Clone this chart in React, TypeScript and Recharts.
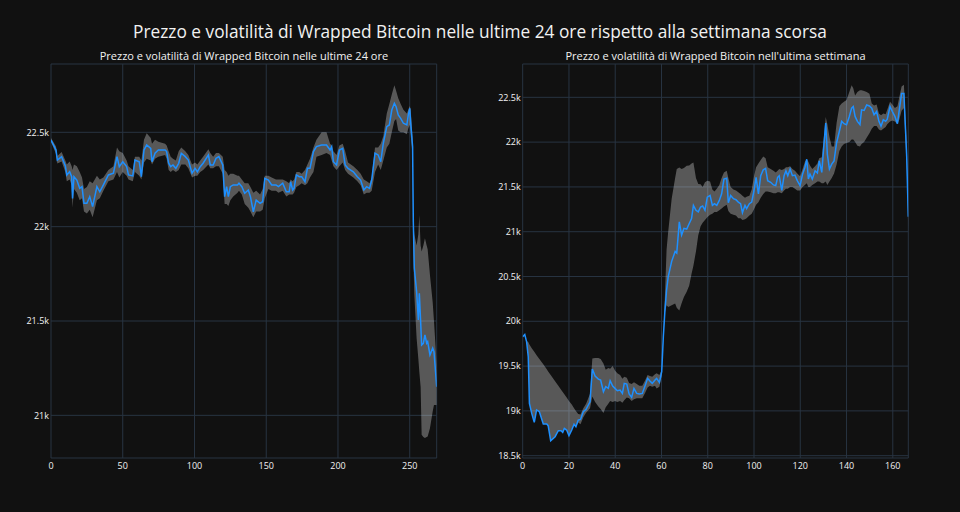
import { Area, CartesianGrid, ComposedChart, Line, XAxis, YAxis } from 'recharts'

// Ultime 24 ore (indice del campione, prezzo in USD, banda di volatilità)
const dayX = [
  0, 3.5, 4.4, 7.4, 10, 11, 13, 14.4, 15, 16, 18, 20, 21.6, 23, 25, 27, 29, 32, 34, 36.5,
  40, 43.5, 46, 47.6, 50, 52.7, 54, 57, 58.5, 61.5, 63, 64.8, 66.7, 69.5, 70.4, 72.5, 74.8, 79.5, 80.6, 82,
  83.4, 85, 87, 89, 90.8, 93.6, 95.7, 98.3, 100.4, 102, 104, 106, 109.7, 111, 113, 115, 117, 119.7, 121, 122.4,
  123.6, 125, 127, 130, 131, 133, 135, 137.5, 139, 141, 143, 145.7, 147.5, 149, 151.5, 153.8, 156.8, 158.5, 161.5, 164,
  166, 167, 168.4, 169.4, 171, 173, 174.7, 177, 178.7, 180.5, 182.9, 185, 188.6, 192, 194.5, 195.6, 196.8, 199, 201, 203.3,
  205, 207, 210.7, 213.5, 215.8, 218, 220, 222, 223.5, 225.8, 228, 229.8, 231.6, 234, 235.8, 237.5, 239.3, 240.5, 242, 243.7,
  245.6, 248, 249, 250, 250.7, 252, 252.5, 253.2, 254.8, 256, 256.7, 257.6, 258.3, 259.5, 260.6, 261.8, 262.5, 264.1, 266, 266.9,
  268.8,
]
const dayPrice = [
  22459, 22406, 22353, 22371, 22322, 22274, 22291, 22265, 22150, 22265, 22247, 22203, 22212, 22124, 22124, 22159, 22106, 22212, 22185, 22221,
  22274, 22283, 22371, 22318, 22344, 22318, 22274, 22269, 22353, 22344, 22265, 22406, 22433, 22415, 22344, 22389, 22406, 22406, 22398, 22336,
  22318, 22327, 22309, 22336, 22389, 22371, 22353, 22283, 22309, 22291, 22318, 22336, 22380, 22327, 22327, 22362, 22371, 22327, 22159, 22212,
  22159, 22212, 22221, 22221, 22230, 22212, 22177, 22194, 22159, 22079, 22141, 22124, 22132, 22256, 22247, 22221, 22221, 22212, 22230, 22185,
  22185, 22238, 22194, 22203, 22274, 22265, 22265, 22238, 22309, 22309, 22398, 22424, 22433, 22433, 22406, 22424, 22344, 22327, 22406, 22415,
  22327, 22309, 22291, 22265, 22247, 22194, 22212, 22203, 22247, 22389, 22380, 22344, 22442, 22530, 22539, 22618, 22654, 22636, 22592, 22574,
  22548, 22539, 22592, 22627, 22548, 22424, 22026, 21780, 21656, 21506, 21647, 21497, 21373, 21382, 21426, 21382, 21391, 21320, 21356, 21338,
  21152,
]
const dayLow = [
  22450, 22385, 22335, 22345, 22290, 22240, 22250, 22220, 22100, 22200, 22180, 22140, 22150, 22080, 22070, 22090, 22050, 22140, 22150, 22190,
  22240, 22250, 22290, 22260, 22290, 22270, 22250, 22240, 22290, 22270, 22250, 22340, 22360, 22350, 22330, 22360, 22370, 22380, 22360, 22300,
  22290, 22300, 22290, 22300, 22330, 22330, 22310, 22260, 22270, 22270, 22290, 22300, 22330, 22310, 22310, 22320, 22320, 22280, 22120, 22120,
  22110, 22140, 22160, 22180, 22190, 22170, 22120, 22100, 22080, 22050, 22080, 22080, 22090, 22150, 22200, 22190, 22190, 22180, 22190, 22160,
  22170, 22170, 22170, 22180, 22210, 22220, 22230, 22220, 22230, 22260, 22290, 22370, 22380, 22390, 22380, 22350, 22320, 22300, 22320, 22340,
  22300, 22280, 22260, 22240, 22220, 22170, 22180, 22180, 22190, 22290, 22330, 22300, 22350, 22420, 22440, 22500, 22560, 22570, 22510, 22500,
  22500, 22490, 22520, 22540, 22480, 22380, 21850, 21640, 21409, 21300, 21230, 21150, 20897, 20885, 20880, 20885, 20888, 20932, 21020, 21055,
  21055,
]
const dayHigh = [
  22470, 22425, 22375, 22395, 22350, 22330, 22345, 22320, 22300, 22330, 22320, 22290, 22260, 22200, 22210, 22240, 22230, 22270, 22250, 22260,
  22300, 22320, 22420, 22400, 22390, 22350, 22320, 22300, 22370, 22370, 22350, 22460, 22495, 22470, 22440, 22460, 22450, 22440, 22430, 22400,
  22370, 22360, 22350, 22400, 22420, 22400, 22380, 22330, 22340, 22330, 22350, 22370, 22410, 22390, 22370, 22390, 22390, 22370, 22300, 22290,
  22270, 22280, 22280, 22270, 22270, 22250, 22230, 22230, 22210, 22180, 22190, 22170, 22200, 22270, 22270, 22260, 22250, 22250, 22250, 22240,
  22230, 22250, 22240, 22250, 22290, 22290, 22280, 22300, 22330, 22360, 22420, 22460, 22500, 22500, 22440, 22430, 22400, 22380, 22430, 22440,
  22400, 22340, 22320, 22300, 22280, 22250, 22240, 22230, 22260, 22420, 22420, 22440, 22480, 22600, 22650, 22700, 22750, 22720, 22680, 22650,
  22620, 22600, 22620, 22640, 22620, 22470, 22030, 21960, 21900, 21960, 22062, 21900, 21868, 21900, 21938, 21900, 21880, 21744, 21600, 21500,
  21267,
]

// Ultima settimana (indice orario)
const weekX = [
  0, 0.9, 1.7, 2.4, 2.9, 3.9, 5, 6, 7.2, 8.9, 10.4, 11, 12.1, 14, 15.4, 16.6, 17.3, 18, 19, 20,
  21.2, 22.2, 23, 24, 25, 26.2, 27.4, 29.1, 30.1, 31.3, 32.7, 33.7, 34.9, 35.9, 37, 37.8, 38.9, 39.9, 40.9, 42.1,
  43.1, 43.9, 45, 46, 47.1, 48.1, 49.3, 50.4, 51.7, 52.9, 54, 55, 56, 57.2, 57.9, 59.1, 60.1, 60.8, 61.5, 62.2,
  62.9, 64.4, 65.9, 66.6, 67.7, 68.7, 69.7, 70.9, 72, 73, 73.8, 74.9, 75.9, 76.9, 77.8, 78.8, 79.8, 81, 82, 82.9,
  83.9, 85, 86, 87, 88.2, 88.9, 89.9, 91.1, 92.2, 93.2, 94.2, 95, 96.1, 96.8, 98, 99, 100, 100.9, 101.9, 102.9,
  104, 105, 105.9, 107.2, 108.4, 109.4, 110.2, 110.9, 112, 113, 113.8, 114.6, 115.6, 116.6, 117.7, 118.7, 119.9, 121, 122, 122.8,
  123.5, 124.2, 125.2, 126.4, 127.4, 128.2, 129.3, 130, 131, 131.7, 132.6, 133.6, 134.6, 135.7, 136.9, 137.9, 138.9, 140, 141.2, 142.2,
  142.9, 143.7, 144.7, 145.8, 146.5, 147.6, 148.7, 149.9, 150.9, 151.9, 153, 154, 154.9, 155.9, 156.9, 157.6, 158.8, 159.8, 160.9, 162,
  162.8, 163.8, 164.8, 166, 166.7,
]
const weekPrice = [
  19827, 19853, 19771, 19604, 19084, 18972, 18872, 19010, 18991, 18853, 18853, 18835, 18667, 18712, 18779, 18779, 18760, 18805, 18786, 18723,
  18786, 18850, 18824, 18898, 18905, 18991, 19017, 19102, 19467, 19389, 19355, 19344, 19214, 19270, 19251, 19337, 19277, 19251, 19225, 19233,
  19195, 19307, 19300, 19188, 19151, 19251, 19195, 19188, 19195, 19281, 19363, 19333, 19307, 19344, 19363, 19318, 19437, 19827, 20125, 20348,
  20496, 20669, 20780, 20761, 21110, 20963, 21037, 21030, 21092, 21147, 21294, 21239, 21221, 21276, 21287, 21239, 21386, 21405, 21294, 21313,
  21294, 21349, 21423, 21588, 21596, 21324, 21405, 21368, 21357, 21331, 21313, 21213, 21294, 21258, 21313, 21331, 21460, 21607, 21423, 21625,
  21691, 21706, 21570, 21552, 21522, 21515, 21607, 21625, 21460, 21625, 21680, 21625, 21699, 21625, 21632, 21570, 21515, 21643, 21717, 21809,
  21588, 21643, 21588, 21680, 21655, 21791, 21662, 21901, 22213, 21864, 21699, 21754, 21791, 21993, 22121, 22232, 22206, 22195, 22287, 22379,
  22397, 22287, 22232, 22195, 22360, 22353, 22415, 22404, 22379, 22305, 22342, 22232, 22177, 22250, 22232, 22257, 22397, 22342, 22287, 22206,
  22360, 22544, 22544, 21846, 21166,
]
const weekLow = [
  null, null, 19771, 19604, 19084, 18972, 18872, 19010, 18991, 18853, 18853, 18835, 18667, 18712, 18779, 18779, 18760, 18805, 18786, 18723,
  18786, 18850, 18824, 18870, 18850, 18930, 18980, 19030, 19160, 19100, 19050, 19020, 18975, 19040, 19080, 19110, 19100, 19110, 19100, 19110,
  19090, 19120, 19150, 19140, 19110, 19130, 19140, 19140, 19140, 19200, 19260, 19280, 19270, 19280, 19250, 19270, 19400, 19800, 20100, 20180,
  20160, 20180, 20199, 20150, 20120, 20200, 20270, 20330, 20400, 20530, 20620, 20780, 20960, 21060, 21100, 21130, 21160, 21190, 21200, 21220,
  21220, 21240, 21260, 21280, 21300, 21230, 21200, 21190, 21180, 21150, 21150, 21130, 21140, 21150, 21180, 21200, 21250, 21300, 21330, 21380,
  21420, 21450, 21450, 21440, 21430, 21430, 21440, 21440, 21430, 21460, 21480, 21480, 21500, 21500, 21480, 21460, 21460, 21500, 21520, 21540,
  21500, 21500, 21520, 21540, 21560, 21560, 21540, 21540, 21560, 21520, 21560, 21600, 21650, 21750, 21900, 21950, 21980, 21990, 22000, 22030,
  22030, 22000, 21960, 21950, 21980, 22000, 22050, 22100, 22150, 22180, 22180, 22140, 22130, 22150, 22170, 22200, 22230, 22240, 22230, 22200,
  22250, 22350, 22380, 21750, 20990,
]
const weekHigh = [
  null, null, 19780, 19770, 19740, 19700, 19660, 19620, 19580, 19520, 19465, 19440, 19400, 19330, 19280, 19235, 19210, 19185, 19150, 19110,
  19070, 19030, 19000, 18965, 18960, 19030, 19080, 19190, 19585, 19590, 19590, 19580, 19530, 19460, 19480, 19470, 19500, 19450, 19420, 19400,
  19360, 19380, 19370, 19310, 19300, 19320, 19300, 19280, 19280, 19340, 19400, 19390, 19380, 19410, 19420, 19400, 19460, 19850, 20300, 20800,
  21000, 21368, 21600, 21700, 21717, 21700, 21710, 21735, 21740, 21760, 21772, 21600, 21533, 21530, 21500, 21552, 21570, 21560, 21470, 21450,
  21480, 21520, 21600, 21660, 21680, 21600, 21500, 21470, 21460, 21440, 21420, 21400, 21380, 21390, 21400, 21470, 21620, 21720, 21760, 21800,
  21840, 21820, 21720, 21700, 21680, 21660, 21680, 21700, 21690, 21700, 21720, 21720, 21730, 21700, 21680, 21650, 21620, 21700, 21780, 21810,
  21780, 21740, 21700, 21730, 21760, 21820, 21830, 22000, 22280, 22200, 22060, 21950, 21950, 22213, 22400, 22430, 22450, 22470, 22560, 22636,
  22600, 22520, 22560, 22580, 22580, 22570, 22560, 22540, 22430, 22410, 22420, 22320, 22300, 22320, 22310, 22360, 22450, 22420, 22380, 22400,
  22500, 22620, 22640, 22000, 21200,
]

const dayTicksX = [0, 50, 100, 150, 200, 250]
const dayTicksY = [21000, 21500, 22000, 22500]
const weekTicksX = [0, 20, 40, 60, 80, 100, 120, 140, 160]
const weekTicksY = [18500, 19000, 19500, 20000, 20500, 21000, 21500, 22000, 22500]

const TITLE = 'Prezzo e volatilità di Wrapped Bitcoin nelle ultime 24 ore rispetto alla settimana scorsa'
const DAY_TITLE = 'Prezzo e volatilità di Wrapped Bitcoin nelle ultime 24 ore'
const WEEK_TITLE = "Prezzo e volatilità di Wrapped Bitcoin nell'ultima settimana"

const BG = '#111111'
const GRID = '#283442'
const TEXT = '#f2f2f2'
const FONT = '"Open Sans", "DejaVu Sans", sans-serif'

const buildRows = (xs: number[], price: number[], low: (number | null)[], high: (number | null)[]) =>
  xs.map((x, i) => ({
    x,
    price: price[i],
    band: low[i] == null || high[i] == null ? null : [low[i], high[i]],
  }))

const fmtK = (v: number) => `${v / 1000}k`

function Panel(props: {
  rows: ReturnType<typeof buildRows>
  left: number
  xMax: number
  yDomain: [number, number]
  ticksX: number[]
  ticksY: number[]
  margin: { top: number; right: number; bottom: number; left: number }
}) {
  const tick = { fill: TEXT, fontSize: 9, fontFamily: FONT }
  return (
    <div style={{ position: 'absolute', left: props.left, top: 0 }}>
      <ComposedChart width={480} height={512} data={props.rows} margin={props.margin}>
        <CartesianGrid stroke={GRID} strokeWidth={1} />
        <XAxis
          dataKey="x"
          type="number"
          domain={[0, props.xMax]}
          ticks={props.ticksX}
          allowDataOverflow
          axisLine={false}
          tickLine={false}
          tickSize={0}
          tickMargin={5}
          height={20}
          tick={tick}
        />
        <YAxis
          type="number"
          domain={props.yDomain}
          ticks={props.ticksY}
          allowDataOverflow
          tickFormatter={fmtK}
          axisLine={false}
          tickLine={false}
          tickSize={0}
          tickMargin={2}
          width={40}
          tick={tick}
        />
        <Area
          dataKey="band"
          type="linear"
          stroke="none"
          fill="#ffffff"
          fillOpacity={0.3}
          isAnimationActive={false}
          activeDot={false}
        />
        <Line
          dataKey="price"
          type="linear"
          stroke="#1e90ff"
          strokeWidth={1.5}
          dot={false}
          activeDot={false}
          isAnimationActive={false}
        />
      </ComposedChart>
    </div>
  )
}

export default function App() {
  const dayRows = buildRows(dayX, dayPrice, dayLow, dayHigh)
  const weekRows = buildRows(weekX, weekPrice, weekLow, weekHigh)
  return (
    <div
      style={{
        position: 'absolute',
        left: 0,
        top: 0,
        width: 960,
        height: 512,
        background: BG,
        overflow: 'hidden',
        fontFamily: FONT,
      }}
    >
      <Panel
        rows={dayRows}
        left={0}
        xMax={268.8}
        yDomain={[20774, 22862]}
        ticksX={dayTicksX}
        ticksY={dayTicksY}
        margin={{ top: 64, right: 43.3, bottom: 34, left: 11 }}
      />
      <Panel
        rows={weekRows}
        left={480}
        xMax={166.7}
        yDomain={[18474, 22872]}
        ticksX={weekTicksX}
        ticksY={weekTicksY}
        margin={{ top: 64, right: 51.7, bottom: 34, left: 2.7 }}
      />
      <svg width={960} height={80} style={{ position: 'absolute', left: 0, top: 0, pointerEvents: 'none' }}>
        <text x={480} y={37.5} textAnchor="middle" fill={TEXT} fontSize={17.3} fontFamily={FONT}>
          {TITLE}
        </text>
        <text x={243.9} y={60} textAnchor="middle" fill={TEXT} fontSize={11} fontFamily={FONT}>
          {DAY_TITLE}
        </text>
        <text x={715.5} y={60} textAnchor="middle" fill={TEXT} fontSize={11} fontFamily={FONT}>
          {WEEK_TITLE}
        </text>
      </svg>
    </div>
  )
}
